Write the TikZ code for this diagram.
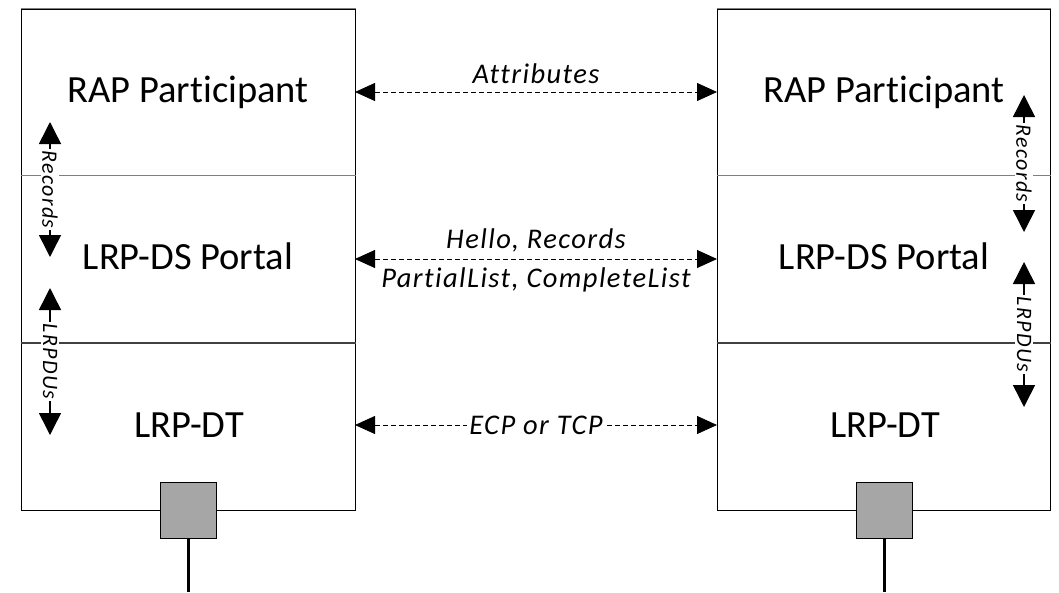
\documentclass[tikz,border=0pt]{standalone}
\usepackage{fontspec}
\setmainfont[Ligatures=NoCommon]{Carlito}
\newfontfamily\msgfont[LetterSpace=5,Ligatures=NoCommon]{Carlito}
\newfontfamily\sidefont[LetterSpace=6,Ligatures=NoCommon]{Carlito}
\usetikzlibrary{arrows.meta}
\definecolor{edgegray}{HTML}{7F7F7F}
\definecolor{darkgray}{HTML}{404040}
\definecolor{portgray}{HTML}{A6A6A6}
\tikzstyle{station}=[draw=black,line width=1pt,minimum width=334pt,minimum height=501pt,inner sep=0pt]
\tikzstyle{layer}=[font=\fontsize{38.5}{42}\selectfont,anchor=base,inner sep=0pt]
\tikzstyle{msg}=[font=\msgfont\fontsize{28.5}{30}\selectfont\itshape,inner sep=0pt]
\tikzstyle{link}=[dash pattern=on 5pt off 3pt,line width=0.8pt,{Triangle[length=20pt,width=18pt]}-{Triangle[length=20pt,width=18pt]}]
\tikzstyle{vlink}=[line width=1.5pt,{Triangle[length=22pt,width=22pt]}-{Triangle[length=22pt,width=22pt]}]
\tikzstyle{vlabel}=[font=\sidefont\fontsize{22}{24}\selectfont\itshape,fill=white,inner sep=1.5pt,rotate=-90]
\tikzstyle{port}=[draw=black,line width=1pt,fill=portgray,minimum size=56pt,inner sep=0pt]

\begin{document}
\begin{tikzpicture}[x=1pt,y=-1pt]
  \useasboundingbox (0,0) rectangle (1059,592);
  % the two stations
  \node[station] (L) at (188,259.5) {};
  \node[station,minimum width=333pt] (R) at (883.5,259.5) {};
  \foreach \b in {L,R}{
    \draw[edgegray,line width=1.2pt] (\b.north west) -- (\b.north east);
    \draw[edgegray,line width=1pt] (\b.west |- 0,175) -- (\b.east |- 0,175);
    \draw[darkgray,line width=2pt] (\b.west |- 0,343) -- (\b.east |- 0,343);
  }
  \foreach \place/\name/\text in {{(188,102)/lrap/RAP Participant},
                                  {(188,269)/lds/LRP-DS Portal},
                                  {(189,437)/ldt/LRP-DT},
                                  {(884,102)/rrap/RAP Participant},
                                  {(884,269)/rds/LRP-DS Portal},
                                  {(885,437)/rdt/LRP-DT}}
    \node[layer] (\name) at \place {\text};
  % peer links
  \coordinate (attl) at (355,92);
  \coordinate (attr) at (717,92);
  \coordinate (dsl) at (355,259);
  \coordinate (dsr) at (717,259);
  \coordinate (dtl) at (355,425);
  \coordinate (dtr) at (717,425);
  \draw[link] (attl) -- node[msg,anchor=base,yshift=9pt] {Attributes} (attr);
  \draw[link] (dsl) -- node[msg,anchor=base,yshift=11pt] {Hello, Records}
                      node[msg,anchor=base,yshift=-28pt] {PartialList, CompleteList} (dsr);
  \draw[link] (dtl) -- node[msg,fill=white,inner sep=2pt] {ECP or TCP} (dtr);
  % inner layer arrows
  \foreach \s/\e/\x/\t in {{122/257/50/Records},
                           {288/435/50/LRPDUs},
                           {95/232/1024/Records},
                           {262/407/1024/LRPDUs}}
    \draw[vlink] (\x,\s) -- node[vlabel] {\t} (\x,\e);
  % ports
  \node[port] (lport) at (188.5,510) {};
  \node[port] (rport) at (884.5,510) {};
  \coordinate (lwire) at (188.5,592);
  \coordinate (rwire) at (884.5,592);
  \draw[line width=3pt] (lport.south) -- (lwire);
  \draw[line width=3pt] (rport.south) -- (rwire);
\end{tikzpicture}
\end{document}
